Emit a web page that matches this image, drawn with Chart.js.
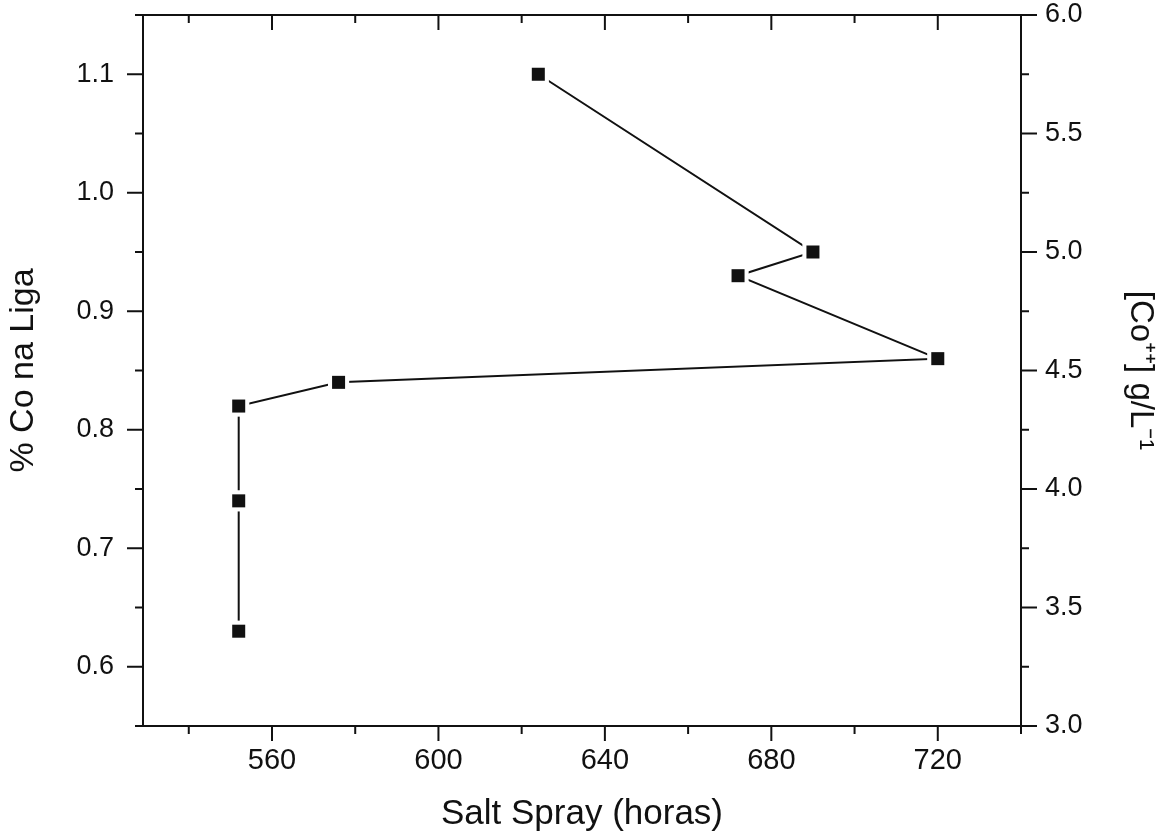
<!DOCTYPE html>
<html>
<head>
<meta charset="utf-8">
<script src="https://cdn.jsdelivr.net/npm/chart.js@4/dist/chart.umd.min.js"></script>
<style>
  html, body { margin: 0; padding: 0; background: #fff; }
  #wrap { width: 1172px; height: 835px; }
</style>
</head>
<body>
<div id="wrap"><canvas id="chart"></canvas></div>
<script>
// salt spray time (h) against cobalt content in the alloy, in run order
const hours = [624, 690, 672, 720, 576, 552, 552, 552];
const coPct = [1.10, 0.95, 0.93, 0.86, 0.84, 0.82, 0.74, 0.63];

const xMajor = [560, 600, 640, 680, 720];
const xMinor = [540, 580, 620, 660, 700, 740];
const yMajor = [0.6, 0.7, 0.8, 0.9, 1.0, 1.1];
const yMinor = [0.55, 0.65, 0.75, 0.85, 0.95, 1.05, 1.15];
const y2Major = [3.0, 3.5, 4.0, 4.5, 5.0, 5.5, 6.0];
const y2Minor = [3.25, 3.75, 4.25, 4.75, 5.25, 5.75];

const INK = "#111";
const FONT = "'Liberation Sans', Arial, sans-serif";

const points = hours.map((h, i) => ({ x: h, y: coPct[i] }));

// frame plus tick marks: x ticks go out at the bottom and in at the top
const axisFrame = {
  id: "axisFrame",
  afterDraw(chart) {
    const { ctx, chartArea: a, scales } = chart;
    ctx.save();
    ctx.strokeStyle = INK;
    ctx.lineWidth = 2;
    const mark = (x1, y1, x2, y2) => {
      ctx.beginPath();
      ctx.moveTo(x1, y1);
      ctx.lineTo(x2, y2);
      ctx.stroke();
    };
    ctx.strokeRect(a.left, a.top, a.right - a.left, a.bottom - a.top);
    const xTicks = (vals, len) => vals.forEach((v) => {
      const p = scales.x.getPixelForValue(v);
      mark(p, a.bottom, p, a.bottom + len);
      mark(p, a.top, p, a.top + len);
    });
    xTicks(xMajor, 15);
    xTicks(xMinor, 8);
    yMajor.forEach((v) => { const p = scales.y.getPixelForValue(v); mark(a.left - 16, p, a.left, p); });
    yMinor.forEach((v) => { const p = scales.y.getPixelForValue(v); mark(a.left - 8, p, a.left, p); });
    y2Major.forEach((v) => { const p = scales.y2.getPixelForValue(v); mark(a.right, p, a.right + 16, p); });
    y2Minor.forEach((v) => { const p = scales.y2.getPixelForValue(v); mark(a.right, p, a.right + 8, p); });
    ctx.restore();
  },
};

const fixedTicks = (vals) => (scale) => { scale.ticks = vals.map((v) => ({ value: v })); };
const hiddenTicks = { display: true, drawOnChartArea: false, tickColor: "transparent", tickLength: 16 };
// fixed axis width; labels may overhang the ends of the axis
const fitWidth = (w) => (s) => { s.width = w; s.paddingTop = 0; s.paddingBottom = 0; };

new Chart(document.getElementById("chart"), {
  type: "scatter",
  data: {
    datasets: [
      {
        data: points,
        showLine: true,
        borderColor: INK,
        borderWidth: 2,
        pointRadius: 0,
        order: 3,
      },
      {
        // white square behind each marker leaves a small gap in the line
        data: points,
        showLine: false,
        pointStyle: "rect",
        pointRadius: 15,
        pointBackgroundColor: "#fff",
        pointBorderWidth: 0,
        order: 2,
      },
      {
        data: points,
        showLine: false,
        pointStyle: "rect",
        pointRadius: 9.2,
        pointBackgroundColor: INK,
        pointBorderWidth: 0,
        order: 1,
      },
    ],
  },
  options: {
    responsive: true,
    maintainAspectRatio: false,
    animation: false,
    events: [],
    layout: { padding: { top: 14, right: 0, bottom: 0, left: 0 } },
    plugins: { legend: { display: false }, tooltip: { enabled: false } },
    scales: {
      x: {
        type: "linear",
        position: "bottom",
        min: 529,
        max: 740,
        afterBuildTicks: fixedTicks(xMajor),
        afterFit: (s) => { s.height = 109; s.paddingLeft = 0; s.paddingRight = 0; },
        border: { display: false },
        grid: { ...hiddenTicks, tickLength: 15 },
        ticks: { color: INK, padding: 3, maxRotation: 0, font: { family: FONT, size: 29 } },
        title: {
          display: true,
          text: "Salt Spray (horas)",
          color: INK,
          font: { family: FONT, size: 35 },
          padding: { top: 0, bottom: 0 },
        },
      },
      y: {
        type: "linear",
        position: "left",
        min: 0.55,
        max: 1.15,
        afterBuildTicks: fixedTicks(yMajor),
        afterFit: fitWidth(143),
        border: { display: false },
        grid: hiddenTicks,
        ticks: {
          color: INK,
          padding: 13,
          font: { family: FONT, size: 27 },
          callback: (v) => v.toFixed(1),
        },
        title: {
          display: true,
          text: "% Co na Liga",
          color: INK,
          font: { family: FONT, size: 34 },
          padding: { top: 3, bottom: 0 },
        },
      },
      y2: {
        type: "linear",
        position: "right",
        min: 3,
        max: 6,
        afterBuildTicks: fixedTicks(y2Major),
        afterFit: fitWidth(151),
        border: { display: false },
        grid: hiddenTicks,
        ticks: {
          color: INK,
          padding: 8,
          font: { family: FONT, size: 27 },
          callback: (v) => v.toFixed(1),
        },
        title: {
          display: true,
          text: "[Co⁺⁺] g/L⁻¹",
          color: INK,
          font: { family: FONT, size: 33 },
          padding: { top: 12, bottom: 0 },
        },
      },
    },
  },
  plugins: [axisFrame],
});
</script>
</body>
</html>
